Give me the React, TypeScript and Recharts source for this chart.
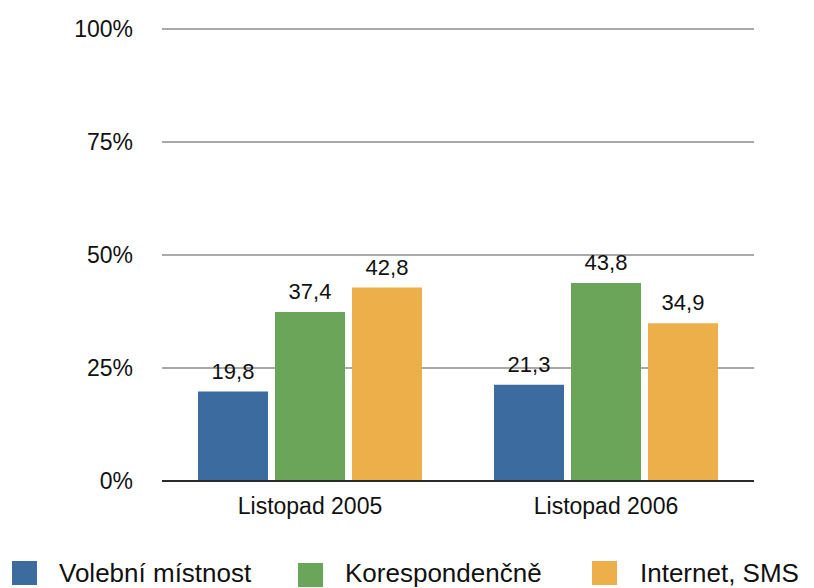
import { Bar, BarChart, CartesianGrid, LabelList, XAxis, YAxis } from "recharts";

const categories = ["Listopad 2005", "Listopad 2006"];
const volebniMistnost = [19.8, 21.3];
const korespondencne = [37.4, 43.8];
const internetSms = [42.8, 34.9];
const yTicks = [0, 25, 50, 75, 100];

const seriesNames = ["Volební místnost", "Korespondenčně", "Internet, SMS"];
const seriesKeys = ["volebni", "koresp", "internet"];
const seriesColors = ["#3c6b9f", "#6aa55a", "#edaf49"];

const chartData = categories.map((name, i) => ({
  name,
  volebni: volebniMistnost[i],
  koresp: korespondencne[i],
  internet: internetSms[i],
}));

const FONT = '"Liberation Sans", Arial, Helvetica, sans-serif';

// legend item positions
const legendPos = [
  { square: 12, text: 59, top: 561 },
  { square: 298, text: 345, top: 563 },
  { square: 592, text: 640, top: 561 },
];

const formatValue = (v: number) => v.toFixed(1).replace(".", ",");

export default function App() {
  return (
    <div
      style={{
        position: "absolute",
        left: 0,
        top: 0,
        width: 814,
        height: 588,
        overflow: "hidden",
        background: "#fff",
        fontFamily: FONT,
      }}
    >
      <BarChart
        width={814}
        height={588}
        data={chartData}
        margin={{ top: 29, right: 60, bottom: 67, left: 0 }}
        barCategoryGap={36}
        barGap={7}
      >
        <CartesianGrid vertical={false} stroke="#a9a9a9" strokeWidth={2} />
        <XAxis
          dataKey="name"
          height={40}
          tickLine={false}
          axisLine={{ stroke: "#2a2a2a", strokeWidth: 2 }}
          tickSize={0}
          tickMargin={17}
          tick={{ fill: "#111", fontSize: 23, fontFamily: FONT }}
        />
        <YAxis
          width={162}
          domain={[0, 100]}
          ticks={yTicks}
          tickFormatter={(v: number) => `${v}%`}
          axisLine={false}
          tickLine={false}
          tickSize={0}
          tickMargin={29}
          tick={{ fill: "#111", fontSize: 23, fontFamily: FONT }}
        />
        {seriesKeys.map((key, i) => (
          <Bar key={key} dataKey={key} name={seriesNames[i]} fill={seriesColors[i]} isAnimationActive={false}>
            <LabelList
              dataKey={key}
              position="top"
              offset={13}
              formatter={(v: number) => formatValue(v)}
              style={{ fill: "#111", fontSize: 22, fontFamily: FONT }}
            />
          </Bar>
        ))}
      </BarChart>
      {seriesNames.map((name, i) => (
        <div key={name}>
          <div
            style={{
              position: "absolute",
              left: legendPos[i].square,
              top: legendPos[i].top,
              width: 25,
              height: 24,
              background: seriesColors[i],
            }}
          />
          <div
            style={{
              position: "absolute",
              left: legendPos[i].text,
              top: 560,
              fontSize: 26,
              lineHeight: "26px",
              color: "#111",
              whiteSpace: "nowrap",
            }}
          >
            {name}
          </div>
        </div>
      ))}
    </div>
  );
}
